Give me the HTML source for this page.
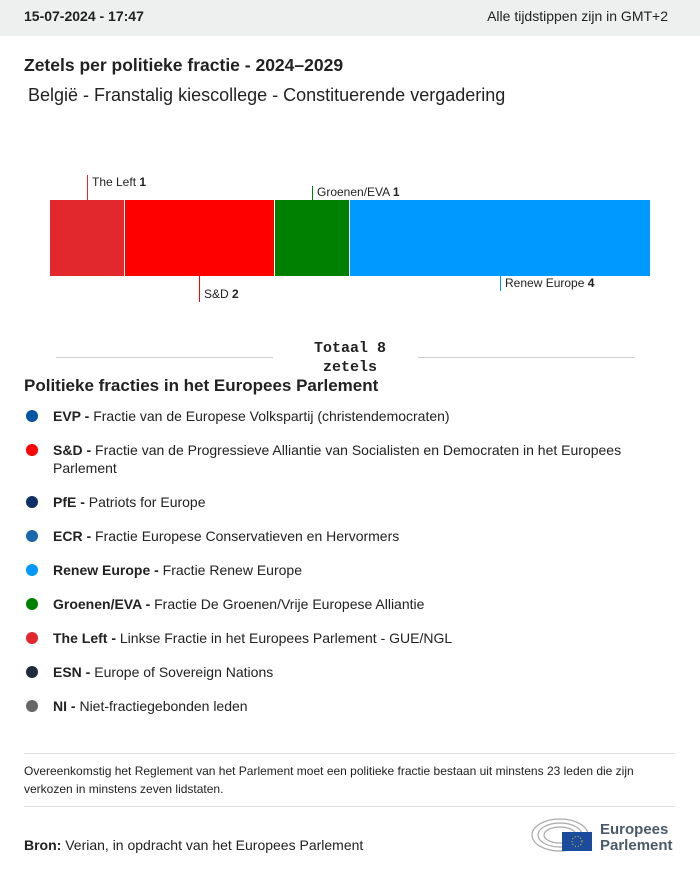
<!DOCTYPE html>
<html><head><meta charset="utf-8"><style>
*{margin:0;padding:0;box-sizing:border-box}
body{width:700px;height:871px;background:#fff;font-family:"Liberation Sans",sans-serif;color:#222;position:relative;overflow:hidden}
.a{position:absolute}
.top{left:0;top:0;width:700px;height:36px;background:#eeefef;font-size:14px}
.lg{left:24px;font-size:14px;line-height:18px;width:640px;padding-left:29px}
.lg i{position:absolute;left:2px;top:3px;width:12px;height:12px;border-radius:50%}
.lab{font-size:12px;white-space:nowrap}
</style></head><body>
<div class="a top"><span class="a" style="left:24px;top:8px;font-weight:bold">15-07-2024 - 17:47</span><span class="a" style="right:32px;top:8px">Alle tijdstippen zijn in GMT+2</span></div>
<div class="a" style="left:24px;top:55px;font-size:17.5px;font-weight:bold">Zetels per politieke fractie - 2024–2029</div>
<div class="a" style="left:28px;top:85px;font-size:18px">België - Franstalig kiescollege - Constituerende vergadering</div>
<div class="a" style="left:50px;top:200px;width:74px;height:76px;background:#e2282c"></div>
<div class="a" style="left:125px;top:200px;width:149px;height:76px;background:#ff0000"></div>
<div class="a" style="left:275px;top:200px;width:74px;height:76px;background:#008000"></div>
<div class="a" style="left:350px;top:200px;width:300px;height:76px;background:#0099ff"></div>
<div class="a" style="left:87px;top:175px;width:1px;height:25px;background:#e2282c"></div>
<div class="a lab" style="left:92px;top:175px">The Left <b>1</b></div>
<div class="a" style="left:312px;top:186px;width:1px;height:14px;background:#008000"></div>
<div class="a lab" style="left:317px;top:185px">Groenen/EVA <b>1</b></div>
<div class="a" style="left:199px;top:276px;width:1px;height:26px;background:#ff0000"></div>
<div class="a lab" style="left:204px;top:287px">S&amp;D <b>2</b></div>
<div class="a" style="left:500px;top:276px;width:1px;height:15px;background:#0099ff"></div>
<div class="a lab" style="left:505px;top:276px">Renew Europe <b>4</b></div>
<div class="a" style="left:56px;top:357px;width:217px;height:1px;background:#ccc"></div>
<div class="a" style="left:418px;top:357px;width:216px;height:1px;background:#ccc"></div>
<div class="a" style="left:300px;top:339px;width:100px;text-align:center;font-family:'Liberation Mono',monospace;font-weight:bold;font-size:15px;line-height:19px">Totaal 8<br>zetels</div>
<div class="a" style="left:24px;top:376px;font-size:17px;font-weight:bold">Politieke fracties in het Europees Parlement</div>
<div class="a lg" style="top:407px"><i style="background:#0056a3"></i><b>EVP -</b> Fractie van de Europese Volkspartij (christendemocraten)</div>
<div class="a lg" style="top:441px;width:610px"><i style="background:#ff0000"></i><b>S&amp;D -</b> Fractie van de Progressieve Alliantie van Socialisten en Democraten in het Europees Parlement</div>
<div class="a lg" style="top:493px"><i style="background:#0b2f66"></i><b>PfE -</b> Patriots for Europe</div>
<div class="a lg" style="top:527px"><i style="background:#1b67ad"></i><b>ECR -</b> Fractie Europese Conservatieven en Hervormers</div>
<div class="a lg" style="top:561px"><i style="background:#0099ff"></i><b>Renew Europe -</b> Fractie Renew Europe</div>
<div class="a lg" style="top:595px"><i style="background:#008000"></i><b>Groenen/EVA -</b> Fractie De Groenen/Vrije Europese Alliantie</div>
<div class="a lg" style="top:629px"><i style="background:#e2282c"></i><b>The Left -</b> Linkse Fractie in het Europees Parlement - GUE/NGL</div>
<div class="a lg" style="top:663px"><i style="background:#1e2d3d"></i><b>ESN -</b> Europe of Sovereign Nations</div>
<div class="a lg" style="top:697px"><i style="background:#666"></i><b>NI -</b> Niet-fractiegebonden leden</div>
<div class="a" style="left:24px;top:753px;width:651px;height:1px;background:#ddd"></div>
<div class="a" style="left:24px;top:762px;width:645px;font-size:12px;line-height:18px">Overeenkomstig het Reglement van het Parlement moet een politieke fractie bestaan uit minstens 23 leden die zijn verkozen in minstens zeven lidstaten.</div>
<div class="a" style="left:24px;top:806px;width:651px;height:1px;background:#ddd"></div>
<div class="a" style="left:24px;top:837px;font-size:14px"><b>Bron:</b> Verian, in opdracht van het Europees Parlement</div>
<svg class="a" style="left:530px;top:815px" width="65" height="38"><g fill="none" stroke="#aaa" stroke-width="1.2"><ellipse cx="30" cy="20" rx="28" ry="16"/><ellipse cx="30" cy="20" rx="22" ry="12"/><ellipse cx="30" cy="20" rx="16" ry="8"/></g><rect x="32" y="17" width="30" height="19" fill="#1a4b9c"/><circle cx="47" cy="26.5" r="5" fill="none" stroke="#fc0" stroke-dasharray="1 2"/></svg>
<div class="a" style="left:600px;top:822px;font-size:15px;line-height:16px;font-weight:bold;color:#4a5a6a">Europees<br>Parlement</div>
</body></html>
